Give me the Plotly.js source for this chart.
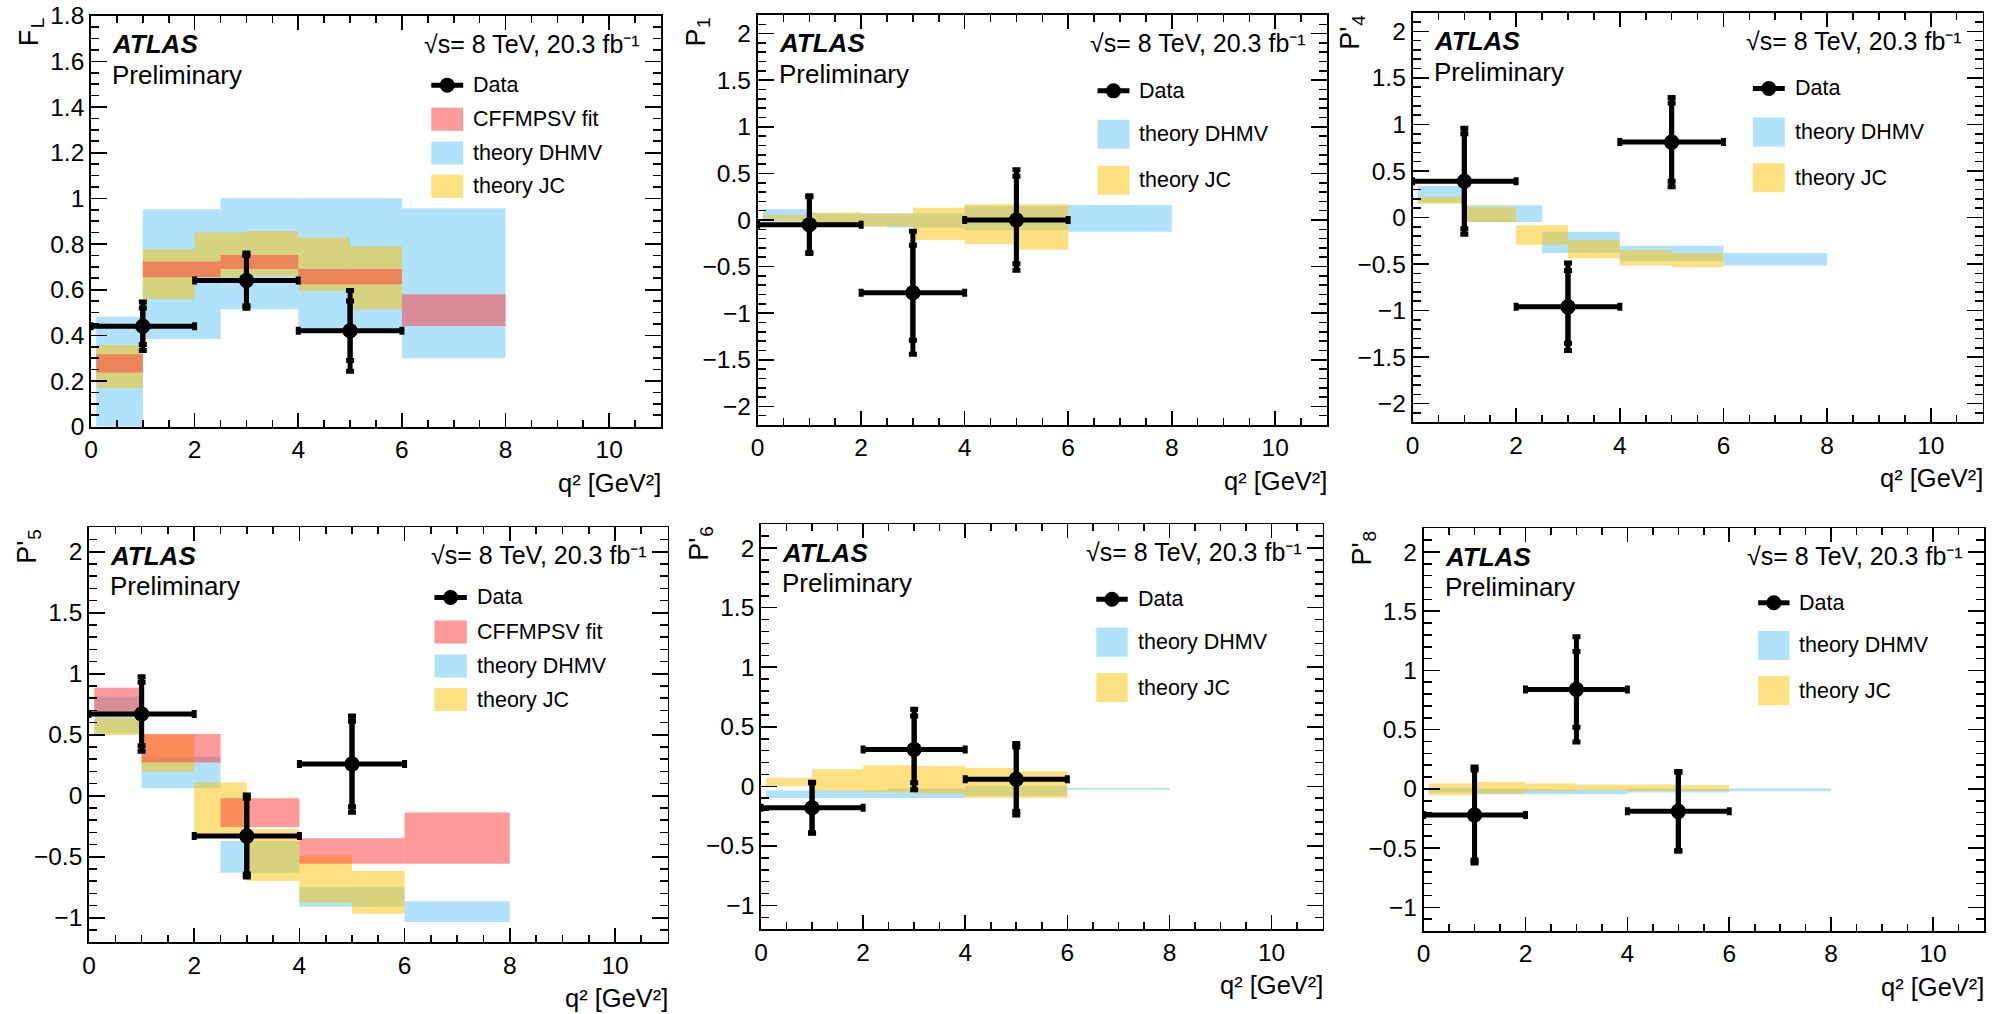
<!DOCTYPE html>
<html>
<head>
<meta charset="utf-8">
<script src="https://cdn.plot.ly/plotly-3.0.1.min.js"></script>
<style>
html,body{margin:0;padding:0;background:#fff;}
#plot{width:2000px;height:1014px;}
</style>
</head>
<body>
<div id="plot"></div>
<script>
// ---------------- DATA ----------------
// measured data: q2 bin centres and half widths
const dataQ2 = [1, 3, 5];
const dataQ2Half = [1, 1, 1];

const FL_val = [0.44, 0.64, 0.42];
const FL_stat = [0.08, 0.11, 0.13];
const FL_tot = [0.106, 0.121, 0.177];

const P1_val = [-0.05, -0.78, 0.0];
const P1_stat = [0.30, 0.51, 0.47];
const P1_tot = [0.31, 0.66, 0.54];

const P4_val = [0.39, -0.96, 0.81];
const P4_stat = [0.51, 0.39, 0.42];
const P4_tot = [0.57, 0.47, 0.48];

const P5_val = [0.67, -0.33, 0.26];
const P5_stat = [0.26, 0.31, 0.35];
const P5_tot = [0.305, 0.336, 0.394];

const P6_val = [-0.18, 0.31, 0.06];
const P6_stat = [0.21, 0.28, 0.27];
const P6_tot = [0.214, 0.338, 0.30];

const P8_val = [-0.22, 0.84, -0.19];
const P8_stat = [0.38, 0.32, 0.33];
const P8_tot = [0.405, 0.445, 0.337];

// theory bins (q2 edges)
const dhmvLo = [0.1, 1.0, 2.5, 4.0, 6.0];
const dhmvHi = [1.0, 2.5, 4.0, 6.0, 8.0];
const jcLo = [0.1, 1, 2, 3, 4, 5];
const jcHi = [1, 2, 3, 4, 5, 6];
const cffLo = [0.1, 1.0, 2.5, 4.0, 6.0];
const cffHi = [1.0, 2.5, 4.0, 6.0, 8.0];

// theory bands (low / high)
const FL_dhmv_lo = [0.0, 0.384, 0.514, 0.428, 0.30];
const FL_dhmv_hi = [0.482, 0.952, 1.0, 1.0, 0.957];
const FL_jc_lo = [0.168, 0.558, 0.655, 0.66, 0.594, 0.514];
const FL_jc_hi = [0.358, 0.777, 0.851, 0.857, 0.828, 0.789];
const FL_cff_lo = [0.237, 0.654, 0.691, 0.624, 0.441];
const FL_cff_hi = [0.317, 0.723, 0.752, 0.691, 0.58];

const P1_dhmv_lo = [-0.02, -0.07, -0.08, -0.11, -0.125];
const P1_dhmv_hi = [0.115, 0.07, 0.07, 0.15, 0.16];
const P1_jc_lo = [-0.01, -0.06, -0.07, -0.215, -0.26, -0.32];
const P1_jc_hi = [0.054, 0.08, 0.07, 0.132, 0.17, 0.17];

const P4_dhmv_lo = [0.16, -0.047, -0.381, -0.47, -0.516];
const P4_dhmv_hi = [0.338, 0.131, -0.153, -0.303, -0.381];
const P4_jc_lo = [0.149, -0.047, -0.292, -0.438, -0.516, -0.534];
const P4_jc_hi = [0.224, 0.113, -0.082, -0.242, -0.349, -0.381];

const P5_dhmv_lo = [0.512, 0.063, -0.63, -0.909, -1.033];
const P5_dhmv_hi = [0.813, 0.32, -0.37, -0.748, -0.863];
const P5_jc_lo = [0.498, 0.2, -0.32, -0.698, -0.876, -0.967];
const P5_jc_hi = [0.638, 0.5, 0.11, -0.274, -0.488, -0.616];
const P5_cff_lo = [0.65, 0.274, -0.255, -0.556, -0.556];
const P5_cff_hi = [0.885, 0.507, -0.019, -0.348, -0.137];

const P6_dhmv_lo = [-0.098, -0.098, -0.098, -0.08, -0.028];
const P6_dhmv_hi = [-0.034, -0.034, -0.02, 0.0, -0.014];
const P6_jc_lo = [0.0, -0.034, -0.05, -0.06, -0.098, -0.098];
const P6_jc_hi = [0.07, 0.143, 0.177, 0.17, 0.154, 0.126];

const P8_dhmv_lo = [-0.03, -0.045, -0.045, -0.03, -0.02];
const P8_dhmv_hi = [0.01, 0.0, -0.005, 0.0, 0.003];
const P8_jc_lo = [-0.053, -0.04, -0.02, -0.012, -0.017, -0.017];
const P8_jc_hi = [0.045, 0.059, 0.045, 0.037, 0.037, 0.031];

// texts
const yTitleMain = ["F", "P", "P'", "P'", "P'", "P'"];
const yTitleSub = ["L", "1", "4", "5", "6", "8"];
const xTitle = "q² [GeV²]";
const legData = "Data", legCff = "CFFMPSV fit", legDhmv = "theory DHMV", legJc = "theory JC";
const atlasText = "ATLAS", prelimText = "Preliminary", energyText = "√s= 8 TeV, 20.3 fb⁻¹";

// ---------------- STYLE ----------------
const FONT = '"Liberation Sans", Arial, Helvetica, sans-serif';
const BLUE = 'rgba(97,197,247,0.5)';
const YELLOW = 'rgba(251,193,0,0.5)';
const RED = 'rgba(255,53,53,0.5)';
const W = 2000, H = 1014;

const panels = [
  {yr:[0,1.8], dt:0.2, mdt:0.05, val:FL_val, stat:FL_stat, tot:FL_tot,
   dhmv:[FL_dhmv_lo, FL_dhmv_hi], jc:[FL_jc_lo, FL_jc_hi], cff:[FL_cff_lo, FL_cff_hi],
   box:[91, 661, 15.7, 426.7]},
  {yr:[-2.2,2.2], dt:0.5, mdt:0.1, val:P1_val, stat:P1_stat, tot:P1_tot,
   dhmv:[P1_dhmv_lo, P1_dhmv_hi], jc:[P1_jc_lo, P1_jc_hi], cff:null,
   box:[757.6, 1327, 15, 425]},
  {yr:[-2.2,2.2], dt:0.5, mdt:0.1, val:P4_val, stat:P4_stat, tot:P4_tot,
   dhmv:[P4_dhmv_lo, P4_dhmv_hi], jc:[P4_jc_lo, P4_jc_hi], cff:null,
   box:[1412.5, 1982.6, 12.7, 422.3]},
  {yr:[-1.2,2.2], dt:0.5, mdt:0.1, val:P5_val, stat:P5_stat, tot:P5_tot,
   dhmv:[P5_dhmv_lo, P5_dhmv_hi], jc:[P5_jc_lo, P5_jc_hi], cff:[P5_cff_lo, P5_cff_hi],
   box:[89, 667.6, 527.3, 942.3]},
  {yr:[-1.2,2.2], dt:0.5, mdt:0.1, val:P6_val, stat:P6_stat, tot:P6_tot,
   dhmv:[P6_dhmv_lo, P6_dhmv_hi], jc:[P6_jc_lo, P6_jc_hi], cff:null,
   box:[761, 1322.6, 524.3, 929.3]},
  {yr:[-1.2,2.2], dt:0.5, mdt:0.1, val:P8_val, stat:P8_stat, tot:P8_tot,
   dhmv:[P8_dhmv_lo, P8_dhmv_hi], jc:[P8_jc_lo, P8_jc_hi], cff:null,
   box:[1423.6, 1984, 528.3, 931]}
];

function bandTrace(lo, hi, bLo, bHi, color, xa, ya) {
  const x = [], w = [], base = [], y = [];
  for (let k = 0; k < lo.length; k++) {
    x.push((bLo[k] + bHi[k]) / 2);
    w.push(bHi[k] - bLo[k]);
    base.push(lo[k]);
    y.push(hi[k] - lo[k]);
  }
  return {type:'bar', x:x, y:y, base:base, width:w, xaxis:xa, yaxis:ya,
          marker:{color:color, line:{width:0}}, hoverinfo:'skip', showlegend:false};
}

const traces = [], shapes = [], annotations = [];
const layout = {
  width:W, height:H, margin:{l:0, r:0, t:0, b:0},
  paper_bgcolor:'#fff', plot_bgcolor:'#fff', showlegend:false, barmode:'overlay',
  font:{family:FONT, color:'#000'}
};

panels.forEach((p, i) => {
  const s = i === 0 ? '' : String(i + 1);
  const xa = 'x' + s, ya = 'y' + s;
  const [L, R, T, B] = p.box;
  layout['xaxis' + s] = {
    domain:[L / W, R / W], range:[0, 11], dtick:2, tick0:0, anchor:ya,
    ticks:'inside', ticklen:14, tickwidth:1.6, tickcolor:'#000',
    showline:true, linewidth:1.8, linecolor:'#000', mirror:'ticks',
    showgrid:false, zeroline:false, automargin:false, fixedrange:true,
    tickfont:{family:FONT, size:24.5, color:'#000'},
    minor:{dtick:0.5, tick0:0, ticks:'inside', ticklen:7, tickwidth:1.6, tickcolor:'#000', showgrid:false}
  };
  layout['yaxis' + s] = {
    domain:[1 - B / H, 1 - T / H], range:p.yr, dtick:p.dt, tick0:0, anchor:xa,
    ticks:'inside', ticklen:16, tickwidth:1.6, tickcolor:'#000',
    showline:true, linewidth:1.8, linecolor:'#000', mirror:'ticks',
    showgrid:false, zeroline:false, automargin:false, fixedrange:true,
    tickfont:{family:FONT, size:24.5, color:'#000'},
    minor:{dtick:p.mdt, tick0:0, ticks:'inside', ticklen:8, tickwidth:1.6, tickcolor:'#000', showgrid:false}
  };

  traces.push(bandTrace(p.dhmv[0], p.dhmv[1], dhmvLo, dhmvHi, BLUE, xa, ya));
  traces.push(bandTrace(p.jc[0], p.jc[1], jcLo, jcHi, YELLOW, xa, ya));
  if (p.cff) traces.push(bandTrace(p.cff[0], p.cff[1], cffLo, cffHi, RED, xa, ya));

  traces.push({type:'scatter', mode:'markers', x:dataQ2, y:p.val, xaxis:xa, yaxis:ya,
    marker:{size:15, color:'#000'}, hoverinfo:'skip',
    error_x:{type:'data', array:dataQ2Half, color:'#000', thickness:5, width:4},
    error_y:{type:'data', array:p.tot, color:'#000', thickness:5, width:4}});
  traces.push({type:'scatter', mode:'markers', x:dataQ2, y:p.val, xaxis:xa, yaxis:ya,
    marker:{size:15, color:'#000'}, hoverinfo:'skip',
    error_y:{type:'data', array:p.stat, color:'#000', thickness:5, width:4}});

  const xr = xa + ' domain', yr = ya + ' domain';
  const txt = (text, x, y, opts) => Object.assign({text:text, x:x, y:y, xref:xr, yref:yr,
      showarrow:false, font:{family:FONT, size:21.5, color:'#000'}}, opts);

  annotations.push(txt('<b><i>' + atlasText + '</i></b>', 0, 1, {xanchor:'left', yanchor:'middle', xshift:19, yshift:-28.5, font:{family:FONT, size:26, color:'#000'}}));
  annotations.push(txt(prelimText, 0, 1, {xanchor:'left', yanchor:'middle', xshift:19, yshift:-59, font:{family:FONT, size:26, color:'#000'}}));
  annotations.push(txt(energyText, 1, 1, {xanchor:'right', yanchor:'middle', xshift:-19, yshift:-28, font:{family:FONT, size:25, color:'#000'}}));
  // y title (rotated): main letter then subscript placed above it and shifted toward the frame
  const subLen = 12;
  annotations.push(txt(yTitleSub[i], 0, 1, {xanchor:'center', yanchor:'top', xshift:-54, yshift:0, textangle:-90, font:{family:FONT, size:19, color:'#000'}}));
  annotations.push(txt(yTitleMain[i], 0, 1, {xanchor:'center', yanchor:'top', xshift:-62, yshift:-subLen, textangle:-90, font:{family:FONT, size:27, color:'#000'}}));
  annotations.push(txt(xTitle, 1, 0, {xanchor:'right', yanchor:'middle', xshift:2, yshift:-56, font:{family:FONT, size:25.5, color:'#000'}}));

  // legend
  const rows = p.cff ? [0.831, 0.748, 0.666, 0.585] : [0.815, 0.709, 0.597];
  const bh = p.cff ? 23 : 29;
  const bx0 = 0.597, bx1 = 0.653, tx = 0.667;
  const labels = p.cff ? [legData, legCff, legDhmv, legJc] : [legData, legDhmv, legJc];
  const cols = p.cff ? [null, RED, BLUE, YELLOW] : [null, BLUE, YELLOW];
  rows.forEach((ry, k) => {
    annotations.push(txt(labels[k], tx, ry, {xanchor:'left', yanchor:'middle'}));
    if (k === 0) {
      shapes.push({type:'line', xref:xr, yref:yr, x0:bx0, x1:bx1, y0:ry, y1:ry, line:{color:'#000', width:5}});
      shapes.push({type:'circle', xref:xr, yref:yr, xsizemode:'pixel', ysizemode:'pixel',
        xanchor:(bx0 + bx1) / 2, yanchor:ry, x0:-7.5, x1:7.5, y0:-7.5, y1:7.5, fillcolor:'#000', line:{width:0}});
    } else {
      shapes.push({type:'rect', xref:xr, yref:yr, ysizemode:'pixel', yanchor:ry, y0:-bh / 2, y1:bh / 2,
        x0:bx0, x1:bx1, fillcolor:cols[k], line:{width:0}});
    }
  });
});

layout.shapes = shapes;
layout.annotations = annotations;

Plotly.newPlot('plot', traces, layout, {displayModeBar:false, staticPlot:true});
</script>
</body>
</html>
